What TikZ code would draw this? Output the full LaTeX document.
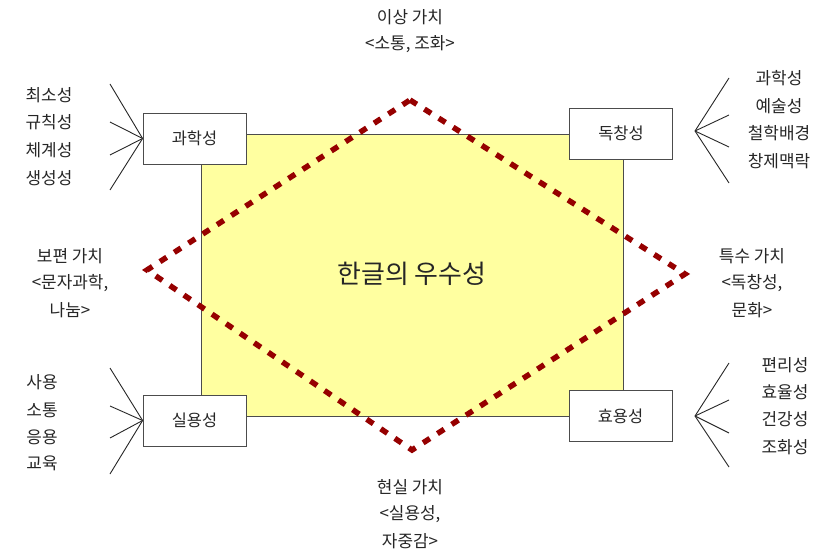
\documentclass[tikz,border=0pt]{standalone}
\usepackage{fontspec}
\setmainfont{Noto Sans CJK KR}
\begin{document}
\begin{tikzpicture}[x=1bp,y=-1bp,
  txt/.style={text=black!85, font=\fontsize{17}{27}\selectfont, inner sep=0pt, align=center},
  boxn/.style={draw=black!70, fill=white, line width=0.8bp, minimum width=103bp, minimum height=51bp, font=\fontsize{16.5}{18}\selectfont, text=black!85, inner sep=0pt},
  fan/.style={line width=0.9bp, draw=black!85},
  dia/.style={draw={rgb,255:red,150;green,0;blue,0}, line width=5.5bp, dash pattern=on 8bp off 9bp}
]
\useasboundingbox (0,0) rectangle (833,553);
% main rectangle
\node[draw=black!70, fill={rgb,255:red,255;green,255;blue,160}, line width=0.8bp, minimum width=422bp, minimum height=282bp, inner sep=0pt] (main) at (412,275) {};
% diamond
\coordinate (dt) at (410,100);
\coordinate (dr) at (685,274);
\coordinate (db) at (412,450);
\coordinate (dl) at (147,270);
\draw[dia] (dt) -- (dr) -- (db) -- (dl) -- cycle;
\node[txt, font=\fontsize{26}{30}\selectfont] (title) at (412,274) {한글의 우수성};
% boxes
\node[boxn] (sci) at (194.5,138.5) {과학성};
\node[boxn] (ori) at (621,133.5) {독창성};
\node[boxn] (pra) at (194.5,420.5) {실용성};
\node[boxn] (uti) at (620.5,416) {효용성};
% fans left top
\coordinate (a1) at (110,84); \coordinate (a2) at (110,122);
\coordinate (a3) at (110,155); \coordinate (a4) at (110,190);
\foreach \p in {a1,a2,a3,a4} \draw[fan] (sci.west) -- (\p);
% fans right top
\coordinate (bc) at (695,131);
\coordinate (b1) at (729,78); \coordinate (b2) at (729,115);
\coordinate (b3) at (729,147); \coordinate (b4) at (729,183);
\foreach \p in {b1,b2,b3,b4} \draw[fan] (bc) -- (\p);
% fans left bottom
\coordinate (c1) at (110,368); \coordinate (c2) at (110,406);
\coordinate (c3) at (110,438); \coordinate (c4) at (110,474);
\foreach \p in {c1,c2,c3,c4} \draw[fan] (pra.west) -- (\p);
% fans right bottom
\coordinate (dc) at (695,416);
\coordinate (d1) at (729,363); \coordinate (d2) at (729,400);
\coordinate (d3) at (729,433); \coordinate (d4) at (729,467);
\foreach \p in {d1,d2,d3,d4} \draw[fan] (dc) -- (\p);
% lists
\node[txt] (l1) at (49,95) {최소성};
\node[txt] (l2) at (49,122) {규칙성};
\node[txt] (l3) at (49,150) {체계성};
\node[txt] (l4) at (49,178) {생성성};
\node[txt] (r1) at (779,78) {과학성};
\node[txt] (r2) at (779,106) {예술성};
\node[txt] (r3) at (779,133) {철학배경};
\node[txt] (r4) at (779,161) {창제맥락};
\node[txt] (m1) at (42,382) {사용};
\node[txt] (m2) at (42,410) {소통};
\node[txt] (m3) at (42,437) {응용};
\node[txt] (m4) at (42,463) {교육};
\node[txt] (n1) at (785,365) {편리성};
\node[txt] (n2) at (785,392) {효율성};
\node[txt] (n3) at (785,419) {건강성};
\node[txt] (n4) at (785,447) {조화성};
% value labels
\node[txt] (top1) at (410,17) {이상 가치};
\node[txt] (top2) at (410,44) {<소통, 조화>};
\node[txt] (lf1) at (70,256) {보편 가치};
\node[txt] (lf2) at (70,283) {<문자과학,};
\node[txt] (lf3) at (70,310) {나눔>};
\node[txt] (rt1) at (752,256) {특수 가치};
\node[txt] (rt2) at (752,283) {<독창성,};
\node[txt] (rt3) at (752,310) {문화>};
\node[txt] (bt1) at (410,487) {현실 가치};
\node[txt] (bt2) at (410,514) {<실용성,};
\node[txt] (bt3) at (410,541) {자중감>};
\end{tikzpicture}
\end{document}
